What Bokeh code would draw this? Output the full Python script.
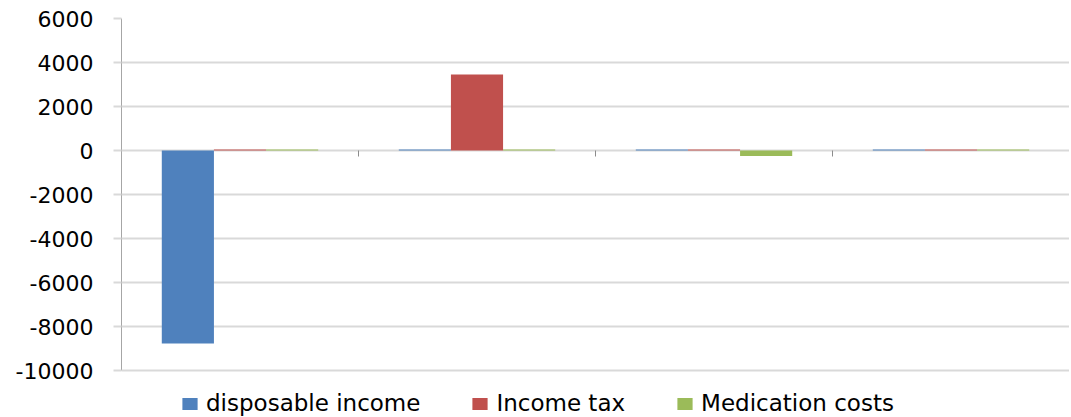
import math
from bokeh.plotting import figure
from bokeh.models import ColumnDataSource, FixedTicker, Legend, LegendItem, Range1d
from bokeh.transform import dodge
from bokeh.embed import file_html
from bokeh.resources import INLINE

# ---- data ----
categories = ["1", "2", "3", "4"]
disposable_income = [-8770, 40, 40, 40]
income_tax = [40, 3450, 40, 40]
medication_costs = [40, 40, -250, 40]
y_ticks = [-10000, -8000, -6000, -4000, -2000, 0, 2000, 4000, 6000]
series_names = ["disposable income", "Income tax", "Medication costs"]
series_colors = ["#4F81BD", "#C0504D", "#9BBB59"]

x_pos = [i + 0.5 for i in range(len(categories))]
source = ColumnDataSource(dict(x=x_pos, a=disposable_income, b=income_tax, c=medication_costs))
bounds_src = ColumnDataSource(dict(x=[i + 1 for i in range(len(categories))],
                                   y=[0] * len(categories)))

W, H = 1069, 416
top_px = 18
px_per_unit = 352 / (y_ticks[-1] - y_ticks[0])
y_start = y_ticks[-1] - (H - top_px) / px_per_unit

p = figure(width=W, height=H,
           x_range=Range1d(0, len(categories)), y_range=Range1d(y_start, y_ticks[-1]),
           output_backend="svg", toolbar_location=None,
           min_border_left=121, min_border_right=0, min_border_top=top_px, min_border_bottom=0)
p.outline_line_color = None
p.background_fill_color = "white"
p.border_fill_color = "white"
p.xaxis.visible = False

# grid
p.xgrid.grid_line_color = None
p.ygrid.ticker = FixedTicker(ticks=y_ticks)
p.ygrid.grid_line_color = "#D9D9D9"
p.ygrid.grid_line_width = 2
p.ygrid.bounds = (y_ticks[0], y_ticks[-1])

bw = 0.22
renderers = []
for off, col, colr in zip([-bw, 0, bw], ["a", "b", "c"], series_colors):
    r = p.vbar(x=dodge("x", off, range=p.x_range), top=col, bottom=0, width=bw,
               source=source, fill_color=colr, line_color=None)
    renderers.append(r)

# category boundary tick marks on the zero line
p.ray(x="x", y="y", length=6, length_units="screen", angle=-math.pi / 2,
      source=bounds_src, line_color="#8C8C8C", line_width=1)

# y axis
p.yaxis.ticker = FixedTicker(ticks=y_ticks)
p.yaxis.bounds = (y_ticks[0], y_ticks[-1])
p.yaxis.major_label_overrides = {t: str(t) for t in y_ticks}
p.yaxis.axis_line_color = "#A6A6A6"
p.yaxis.axis_line_width = 1
p.yaxis.major_tick_line_color = "#D9D9D9"
p.yaxis.major_tick_line_width = 2
p.yaxis.major_tick_out = 8
p.yaxis.major_tick_in = 0
p.yaxis.minor_tick_line_color = None
p.yaxis.major_label_standoff = 20
p.yaxis.major_label_text_font = "DejaVu Sans"
p.yaxis.major_label_text_font_size = "22px"
p.yaxis.major_label_text_color = "#000000"

legend = Legend(items=[LegendItem(label=n, renderers=[r]) for n, r in zip(series_names, renderers)],
                orientation="horizontal", location=(59, 0),
                glyph_width=19, glyph_height=15, label_standoff=7, spacing=50,
                padding=0, margin=0, border_line_color=None, background_fill_alpha=0,
                label_text_font="DejaVu Sans", label_text_font_size="23px",
                label_text_color="#000000")
p.add_layout(legend)

open("out.html", "w").write(file_html(p, INLINE))
